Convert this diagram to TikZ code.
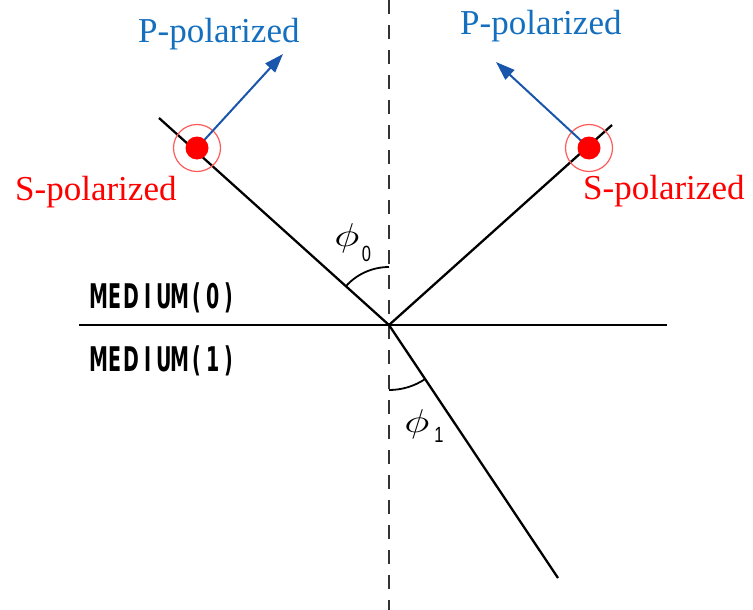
\documentclass[tikz,border=0pt]{standalone}
\usepackage{fontspec}
\usepackage{graphicx}
\setmainfont{Liberation Serif}
\newfontfamily\gothic{DejaVu Sans}
\newfontfamily\subfont{Liberation Sans}
\usetikzlibrary{arrows.meta}
\definecolor{ptblue}{RGB}{20,112,190}
\definecolor{parrow}{RGB}{25,85,170}
\definecolor{ringred}{RGB}{255,90,90}
\newcommand\gch[1]{\makebox[16.2pt]{\scalebox{0.56}[1]{#1}}}
\begin{document}
\begin{tikzpicture}[x=1pt,y=-1pt,
  ray/.style={line width=2.3pt,black},
  normalline/.style={line width=2.3pt,black!80,dash pattern=on 14pt off 11pt},
  arcline/.style={line width=1.8pt,black},
  polarrow/.style={line width=2pt,parrow,-{Triangle[length=19pt,width=13pt]}},
  ptext/.style={text=ptblue,font=\fontsize{35}{40}\selectfont,anchor=base west,inner sep=0pt},
  stext/.style={text=red,font=\fontsize{35}{40}\selectfont,anchor=base west,inner sep=0pt},
  medtext/.style={font=\gothic\bfseries\fontsize{34}{40}\selectfont,anchor=base west,inner sep=0pt},
  dot/.style={circle,fill=red,minimum size=23pt,inner sep=0pt},
  ring/.style={circle,draw=ringred,line width=1.2pt,minimum size=47pt,inner sep=0pt},
  phitext/.style={inner sep=0pt},
  subtext/.style={font=\subfont\fontsize{22}{24}\selectfont,inner sep=0pt,xscale=0.75}]
\useasboundingbox (0,0) rectangle (753,610);
% coordinates
\coordinate (O) at (389,325);
\coordinate (ntop) at (389,0);
\coordinate (nbot) at (389,610);
\coordinate (hl) at (79,325);
\coordinate (hr) at (667,325);
\coordinate (inc) at (159,118);
\coordinate (refl) at (612,125);
\coordinate (refr) at (558,578);
\coordinate (tipL) at (283,54);
\coordinate (tipR) at (496,62);
% normal and interface
\draw[normalline] (ntop) -- (nbot);
\draw[ray] (hl) -- (hr);
% rays
\draw[ray] (inc) -- (O);
\draw[ray] (O) -- (refl);
\draw[ray] (O) -- (refr);
% angle arcs
\draw[arcline] (O) ++(-90:58) arc[start angle=-90,end angle=-138.2,radius=58];
\draw[arcline] (O) ++(90:65) arc[start angle=90,end angle=56.4,radius=65];
% polarization markers
\node[ring] (rL) at (197,148) {};
\node[ring] (rR) at (589,148) {};
\draw[polarrow] (197,148) -- (tipL);
\draw[polarrow] (589,148) -- (tipR);
\node[dot] (sL) at (197,148) {};
\node[dot] (sR) at (589,148) {};
% labels
\node[ptext] (pL) at (138,43) {P-polarized};
\node[ptext] (pR) at (460,35) {P-polarized};
\node[stext] (sLt) at (15,200) {S-polarized};
\node[stext] (sRt) at (583,199) {S-polarized};
\node[medtext] (m0) at (91,308) {\gch{M}\gch{E}\gch{D}\gch{I}\gch{U}\gch{M}\gch{(}\gch{0}\gch{)}};
\node[medtext] (m1) at (91,371) {\gch{M}\gch{E}\gch{D}\gch{I}\gch{U}\gch{M}\gch{(}\gch{1}\gch{)}};
\node[phitext] (phi0) at (347,238) {\scalebox{4.2}[3.3]{$\phi$}};
\node[subtext] (sub0) at (366.5,253.5) {0};
\node[phitext] (phi1) at (417,424) {\scalebox{4.2}[3.3]{$\phi$}};
\node[subtext] (sub1) at (439,435) {1};
\end{tikzpicture}
\end{document}
